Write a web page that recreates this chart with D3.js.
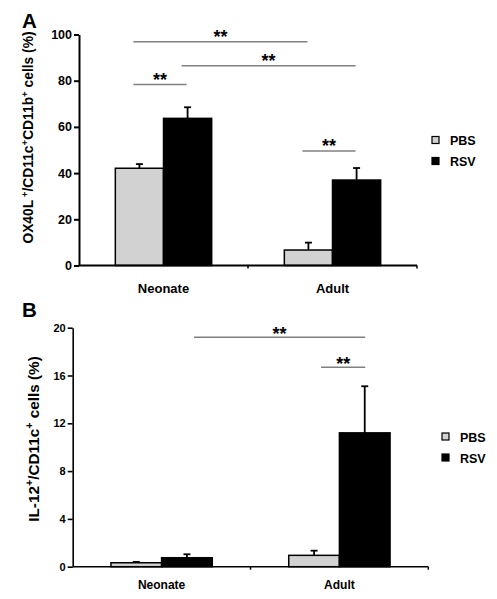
<!DOCTYPE html>
<html><head><meta charset="utf-8">
<script src="https://cdn.jsdelivr.net/npm/d3@7"></script>
<style>
html,body{margin:0;padding:0;background:#fff;}
svg{display:block;font-family:"Liberation Sans",Arial,Helvetica,sans-serif;font-weight:bold;}
</style></head><body>
<svg id="chart" width="497" height="599"></svg>
<script>
const categories = ["Neonate", "Adult"];
const seriesNames = ["PBS", "RSV"];

// Panel A: OX40L+ / CD11c+CD11b+ cells (%)
const aPBS = [42.1, 6.7];
const aRSV = [63.7, 37.0];
const aPBSErr = [1.8, 3.2];
const aRSVErr = [4.8, 5.2];
const aTicks = [0, 20, 40, 60, 80, 100];
// significance: [fromCat, fromSeries, toCat, toSeries, level]
const aSig = [[0, 0, 1, 0, 96.9], [0, 1, 1, 1, 86.5], [0, 0, 0, 1, 78.4], [1, 0, 1, 1, 49.6]];

// Panel B: IL-12+ / CD11c+ cells (%)
const bPBS = [0.33, 0.95];
const bRSV = [0.75, 11.2];
const bPBSErr = [0.07, 0.39];
const bRSVErr = [0.29, 3.9];
const bTicks = [0, 4, 8, 12, 16, 20];
const bSig = [[0, 1, 1, 1, 19.2], [1, 0, 1, 1, 16.7]];

const colors = {PBS: "#d2d2d2", RSV: "#000"};
const svg = d3.select("#chart");

function panel(cfg) {
  const g = svg.append("g");
  const x0 = d3.scaleBand().domain(categories).range(cfg.xr).paddingInner(0.43).paddingOuter(0.215);
  const x1 = d3.scaleBand().domain(seriesNames).range([0, x0.bandwidth()]);
  const y = d3.scaleLinear().domain([0, cfg.ticks[cfg.ticks.length - 1]]).range(cfg.yr);
  const rows = [];
  categories.forEach((c, i) => {
    rows.push({cat: c, s: "PBS", v: cfg.pbs[i], e: cfg.pbsErr[i]});
    rows.push({cat: c, s: "RSV", v: cfg.rsv[i], e: cfg.rsvErr[i]});
  });
  const cx = (ci, si) => x0(categories[ci]) + x1(seriesNames[si]) + x1.bandwidth() / 2;

  // error bars (upward only)
  rows.forEach(r => {
    const xc = x0(r.cat) + x1(r.s) + x1.bandwidth() / 2;
    g.append("line").attr("x1", xc).attr("x2", xc).attr("y1", y(r.v)).attr("y2", y(r.v + r.e))
      .attr("stroke", "#000").attr("stroke-width", 1.8);
    g.append("line").attr("x1", xc - 3.5).attr("x2", xc + 3.5).attr("y1", y(r.v + r.e)).attr("y2", y(r.v + r.e))
      .attr("stroke", "#000").attr("stroke-width", 1.8);
  });
  // bars
  g.selectAll("rect.bar").data(rows).join("rect").attr("class", "bar")
    .attr("x", d => x0(d.cat) + x1(d.s))
    .attr("width", x1.bandwidth())
    .attr("y", d => y(d.v))
    .attr("height", d => y(0) - y(d.v))
    .attr("fill", d => colors[d.s])
    .attr("stroke", "#000").attr("stroke-width", 1.5);

  // y axis
  const ya = g.append("g").attr("transform", `translate(${cfg.xr[0]},0)`)
    .call(d3.axisLeft(y).tickValues(cfg.ticks).tickSize(5).tickPadding(2).tickSizeOuter(0));
  ya.select(".domain").attr("stroke-width", cfg.axisW);
  ya.selectAll(".tick line").attr("stroke-width", cfg.axisW);
  ya.selectAll(".tick text").attr("font-size", cfg.tickFont).attr("font-weight", "bold")
    .attr("font-family", "Liberation Sans, Arial, sans-serif").attr("fill", "#000");

  // x axis
  g.append("line").attr("x1", cfg.xr[0]).attr("x2", cfg.xr[1]).attr("y1", y(0)).attr("y2", y(0))
    .attr("stroke", "#000").attr("stroke-width", cfg.axisW);
  [x0.range()[0] + x0.step(), cfg.xr[1]].forEach(t => {
    g.append("line").attr("x1", t).attr("x2", t).attr("y1", y(0)).attr("y2", y(0) + 3)
      .attr("stroke", "#000").attr("stroke-width", 1.5);
  });
  categories.forEach(c => {
    g.append("text").attr("x", x0(c) + x0.bandwidth() / 2).attr("y", y(0) + cfg.catDy)
      .attr("text-anchor", "middle").attr("font-size", cfg.catFont).text(c);
  });

  // significance
  cfg.sig.forEach(s => {
    const xa = cx(s[0], s[1]) + cfg.sigStart;
    const xb = cx(s[2], s[3]) + cfg.sigEnd;
    const yy = y(s[4]);
    g.append("line").attr("x1", xa).attr("x2", xb).attr("y1", yy).attr("y2", yy)
      .attr("stroke", "#808080").attr("stroke-width", 1.5);
    g.append("text").attr("x", (xa + xb) / 2).attr("y", yy + cfg.starDy)
      .attr("text-anchor", "middle").attr("font-size", 18).text("**");
  });

  // y label
  const lab = g.append("text").attr("transform", `translate(${cfg.labX},${cfg.labY}) rotate(-90)`)
    .attr("text-anchor", "middle").attr("font-size", cfg.labFont);
  cfg.label.forEach(p => {
    const t = lab.append("tspan").text(p[0]);
    if (p[1]) t.attr("baseline-shift", "super").attr("font-size", cfg.labFont * 0.7);
  });

  // panel letter
  g.append("text").attr("x", cfg.letterX).attr("y", cfg.letterY).attr("font-size", 20.5).text(cfg.letter);

  // legend
  seriesNames.forEach((s, i) => {
    const ly = cfg.legY + i * 21;
    g.append("rect").attr("x", cfg.legX).attr("y", ly - 4).attr("width", 7).attr("height", 7)
      .attr("fill", colors[s]).attr("stroke", "#000").attr("stroke-width", 1.2);
    g.append("text").attr("x", cfg.legX + 18).attr("y", ly + 4.5).attr("font-size", 12.5).text(s);
  });
}

panel({
  xr: [79, 417], yr: [265.5, 34.5], ticks: aTicks,
  pbs: aPBS, rsv: aRSV, pbsErr: aPBSErr, rsvErr: aRSVErr, sig: aSig,
  sigStart: -6, sigEnd: -1, starDy: 1.2, axisW: 2, tickFont: 12.5, catFont: 13, catDy: 27,
  label: [["OX40L"], [" +", 1], ["/CD11c"], ["+", 1], ["CD11b"], ["+", 1], [" cells (%)"]],
  labX: 32.5, labY: 137.5, labFont: 13.8, letter: "A", letterX: 22, letterY: 28,
  legX: 432, legY: 140.5
});
panel({
  xr: [72.7, 428.3], yr: [566.7, 327.7], ticks: bTicks,
  pbs: bPBS, rsv: bRSV, pbsErr: bPBSErr, rsvErr: bRSVErr, sig: bSig,
  sigStart: 7, sigEnd: 0.5, starDy: 2.5, axisW: 1.6, tickFont: 11, catFont: 12, catDy: 22.5,
  label: [["IL-12"], ["+", 1], ["/CD11c"], ["+", 1], [" cells (%)"]],
  labX: 38.5, labY: 439, labFont: 15.3, letter: "B", letterX: 22, letterY: 317,
  legX: 442, legY: 437
});
</script>
</body></html>
